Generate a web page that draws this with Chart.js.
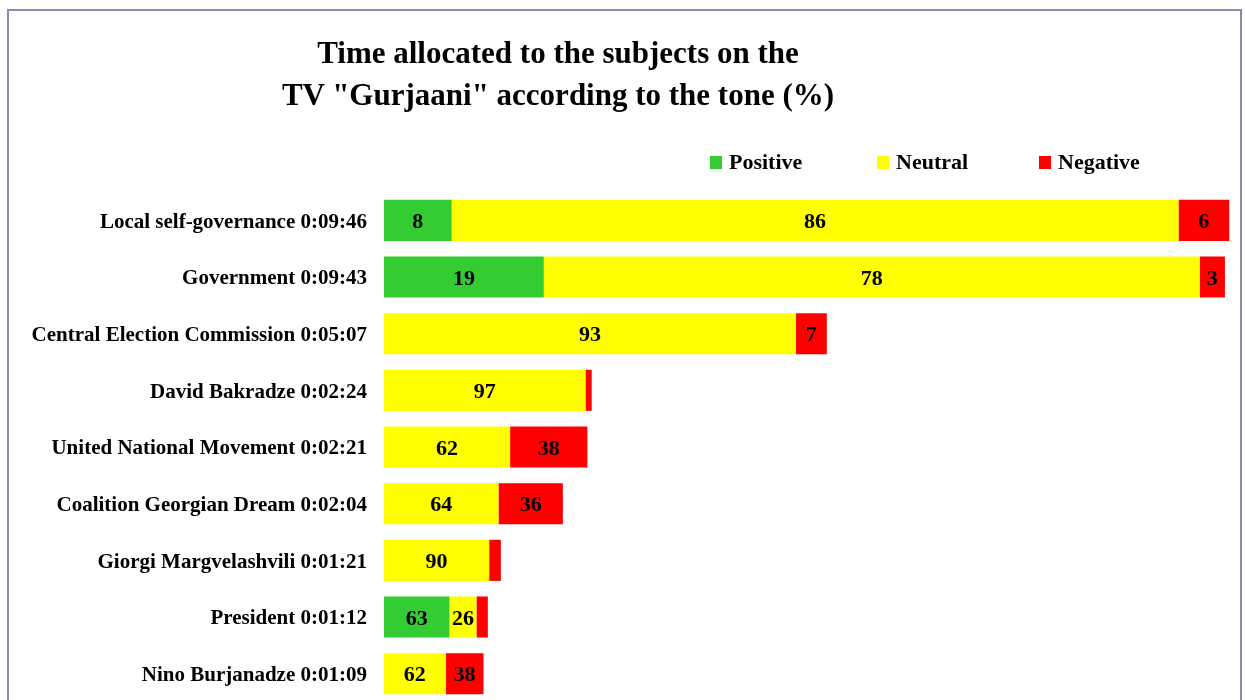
<!DOCTYPE html>
<html lang="en">
<head>
<meta charset="UTF-8">
<title>TV Gurjaani - time by tone</title>
<script src="https://cdn.jsdelivr.net/npm/chart.js"></script>
<style>
    html, body {
        margin: 0;
        padding: 0;
        width: 1245px;
        height: 700px;
        overflow: hidden;
        background: #fff;
        font-family: 'Liberation Serif', serif;
    }
    #frame {
        position: absolute;
        left: 7px;
        top: 9px;
        width: 1231px;
        height: 760px;
        border: 2px solid #8a8ab2;
        pointer-events: none;
    }
    #title {
        position: absolute;
        left: 208px;
        width: 700px;
        top: 32px;
        text-align: center;
        font-size: 31px;
        font-weight: bold;
        line-height: 42px;
        color: #000;
    }
    .lg {
        position: absolute;
        top: 150px;
        font-size: 22px;
        font-weight: bold;
        line-height: 24px;
        color: #000;
    }
    .lg span {
        display: inline-block;
        width: 12px;
        height: 13px;
        margin-right: 7px;
        vertical-align: 0px;
    }
    #chart {
        position: absolute;
        left: 0;
        top: 0;
    }
</style>
</head>
<body>
<canvas id="chart" width="1245" height="702"></canvas>
<div id="frame"></div>
<div id="title">Time allocated to the subjects on the<br>TV "Gurjaani" according to the tone (%)</div>
<div class="lg" style="left:710px"><span style="background:#33cc33"></span>Positive</div>
<div class="lg" style="left:877px"><span style="background:#ffff00"></span>Neutral</div>
<div class="lg" style="left:1039px"><span style="background:#ff0000"></span>Negative</div>

<script>
    // subjects and their total airtime
    const subjects = [
        'Local self-governance 0:09:46',
        'Government 0:09:43',
        'Central Election Commission 0:05:07',
        'David Bakradze 0:02:24',
        'United National Movement 0:02:21',
        'Coalition Georgian Dream 0:02:04',
        'Giorgi Margvelashvili 0:01:21',
        'President 0:01:12',
        'Nino Burjanadze 0:01:09'
    ];
    const seconds = [586, 583, 307, 144, 141, 124, 81, 72, 69];

    // share of each tone, %
    const positive = [8, 19, 0, 0, 0, 0, 0, 63, 0];
    const neutral  = [86, 78, 93, 97, 62, 64, 90, 26, 62];
    const negative = [6, 3, 7, 3, 38, 36, 10, 11, 38];

    // bar length = airtime, split by tone share
    const part = pct => pct.map((p, i) => seconds[i] * p / 100);

    const labelPlugin = {
        id: 'segLabels',
        afterDatasetsDraw(chart) {
            const c = chart.ctx;
            c.save();
            c.font = 'bold 22px "Liberation Serif"';
            c.fillStyle = '#000';
            c.textAlign = 'center';
            c.textBaseline = 'middle';
            chart.data.datasets.forEach((ds, di) => {
                const meta = chart.getDatasetMeta(di);
                meta.data.forEach((bar, i) => {
                    const w = bar.x - bar.base;
                    if (ds.pct[i] > 0 && w > 20) {
                        c.fillText(ds.pct[i], (bar.x + bar.base) / 2, bar.y + 2);
                    }
                });
            });
            c.restore();
        }
    };

    new Chart(document.getElementById('chart'), {
        type: 'bar',
        data: {
            labels: subjects,
            datasets: [
                { label: 'Positive', data: part(positive), pct: positive, backgroundColor: '#33cc33' },
                { label: 'Neutral', data: part(neutral), pct: neutral, backgroundColor: '#ffff00' },
                { label: 'Negative', data: part(negative), pct: negative, backgroundColor: '#ff0000' }
            ]
        },
        options: {
            indexAxis: 'y',
            responsive: false,
            animation: false,
            layout: { padding: { top: 192, right: 10, bottom: 0, left: 0 } },
            datasets: { bar: { barPercentage: 0.725, categoryPercentage: 1 } },
            plugins: {
                legend: { display: false },
                title: { display: false },
                tooltip: { enabled: false }
            },
            scales: {
                x: {
                    stacked: true,
                    display: false,
                    min: 0,
                    max: 590
                },
                y: {
                    stacked: true,
                    grid: { display: false, drawTicks: false },
                    border: { display: false },
                    afterFit: s => {
                        s.width = 384;
                        s.paddingTop = 0;
                        s.paddingBottom = 0;
                    },
                    ticks: {
                        padding: 17,
                        labelOffset: 2,
                        color: '#000',
                        font: { family: 'Liberation Serif', size: 21, weight: 'bold' }
                    }
                }
            }
        },
        plugins: [labelPlugin]
    });
</script>
</body>
</html>
